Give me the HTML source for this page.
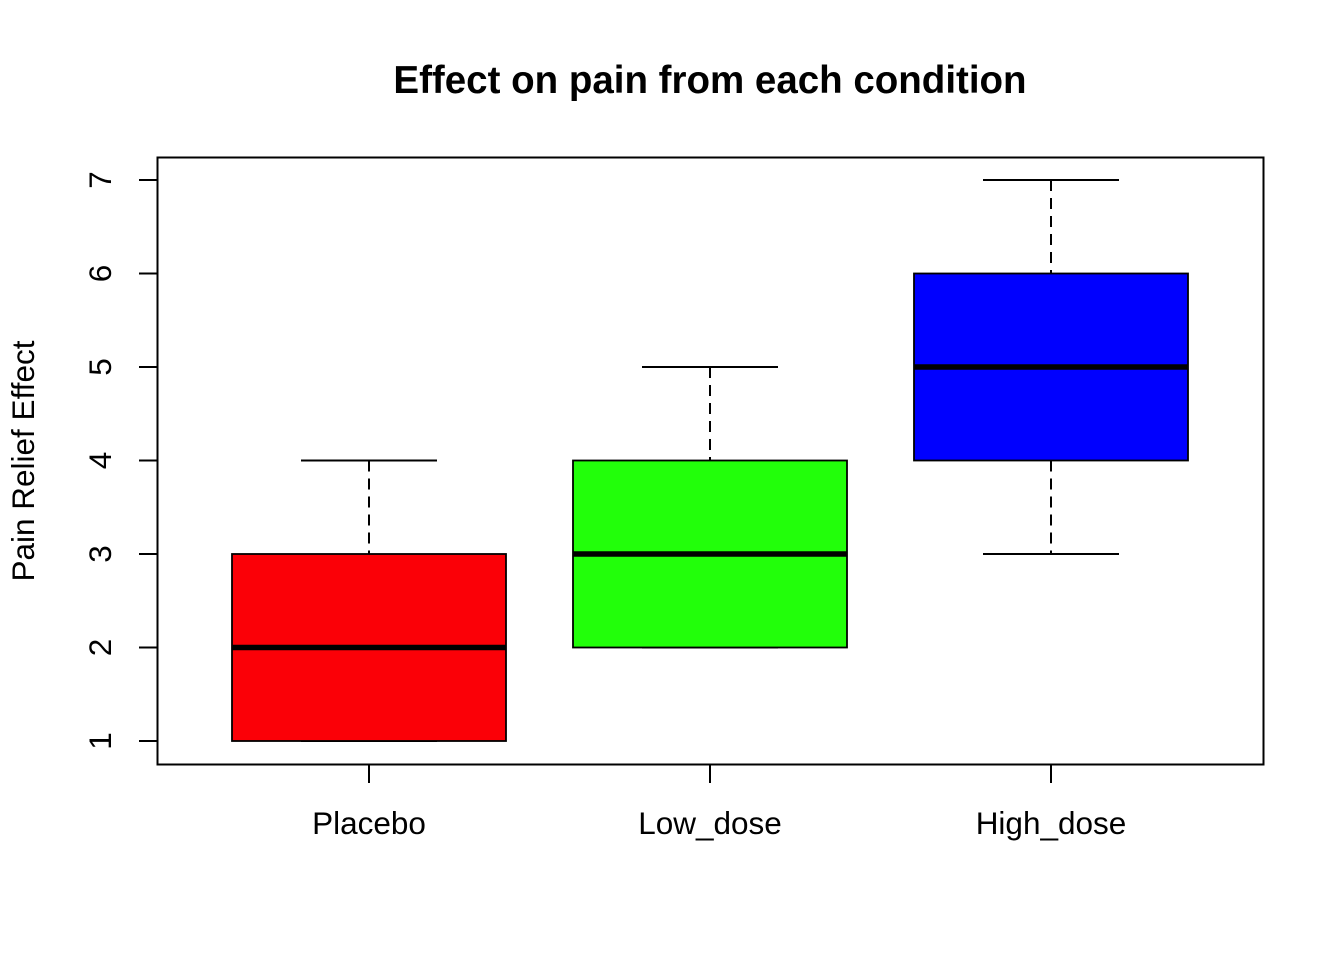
<!DOCTYPE html>
<html><head><meta charset="utf-8"><style>
html,body{margin:0;padding:0;background:#fff;}
svg{display:block;font-family:"Liberation Sans",Arial,sans-serif;}
</style></head><body>
<svg id="chart" width="1344" height="960" viewBox="0 0 1344 960" xmlns="http://www.w3.org/2000/svg">
<rect width="1344" height="960" fill="#fff"/>
<text x="710" y="93" text-anchor="middle" font-size="38.5" font-weight="bold">Effect on pain from each condition</text>
<rect x="157.5" y="157.5" width="1106" height="607" fill="none" stroke="#000" stroke-width="2"/>
<text transform="translate(34,461) rotate(-90)" text-anchor="middle" font-size="31.5">Pain Relief Effect</text>
<g id="yaxis"></g>
<g id="xaxis"></g>
<g id="boxes"></g>
</svg>
<script>
const categories = ["Placebo","Low_dose","High_dose"];
const mins = [1,2,3];
const q1s = [1,2,4];
const medians = [2,3,5];
const q3s = [3,4,6];
const maxs = [4,5,7];
const yTicks = [1,2,3,4,5,6,7];
const colors = ["#FB0007","#22FF0A","#0000FF"];
const NS="http://www.w3.org/2000/svg";
function y(v){return 741 + (v-1)*(180-741)/6;}
function x(i){return 369 + i*341;}
function mk(tag,attrs,parent){const e=document.createElementNS(NS,tag);for(const k in attrs)e.setAttribute(k,attrs[k]);parent.appendChild(e);return e;}
const ya=document.getElementById('yaxis'), xa=document.getElementById('xaxis'), bx=document.getElementById('boxes');
yTicks.forEach(t=>{
  const l=mk('line',{x1:139,x2:157,y1:y(t),y2:y(t),stroke:'#000','stroke-width':2},ya);
  
  
  const tx=mk('text',{transform:`translate(111,${y(t)}) rotate(-90)`,'text-anchor':'middle','font-size':31.5},ya);
  tx.textContent=t;
  
  
});
categories.forEach((c,i)=>{
  const cx=x(i);
  const l=mk('line',{x1:cx,x2:cx,y1:764,y2:783,stroke:'#000','stroke-width':2},xa);
  
  
  const tx=mk('text',{x:cx,y:834,'text-anchor':'middle','font-size':31.5},xa);
  tx.textContent=c;
  
  
  const g=mk('g',{},bx);
  
  
  mk('line',{x1:cx,x2:cx,y1:y(maxs[i]),y2:y(q3s[i]),stroke:'#000','stroke-width':2,'stroke-dasharray':'11,7'},g);
  mk('line',{x1:cx,x2:cx,y1:y(q1s[i]),y2:y(mins[i]),stroke:'#000','stroke-width':2,'stroke-dasharray':'11,7'},g);
  mk('line',{x1:cx-68,x2:cx+68,y1:y(maxs[i]),y2:y(maxs[i]),stroke:'#000','stroke-width':2},g);
  mk('line',{x1:cx-68,x2:cx+68,y1:y(mins[i]),y2:y(mins[i]),stroke:'#000','stroke-width':2},g);
  mk('rect',{x:cx-137,y:y(q3s[i]),width:274,height:y(q1s[i])-y(q3s[i]),fill:colors[i],stroke:'#000','stroke-width':1.8},g);
  mk('line',{x1:cx-137,x2:cx+137,y1:y(medians[i]),y2:y(medians[i]),stroke:'#000','stroke-width':5.5},g);
});
</script>
</body></html>
